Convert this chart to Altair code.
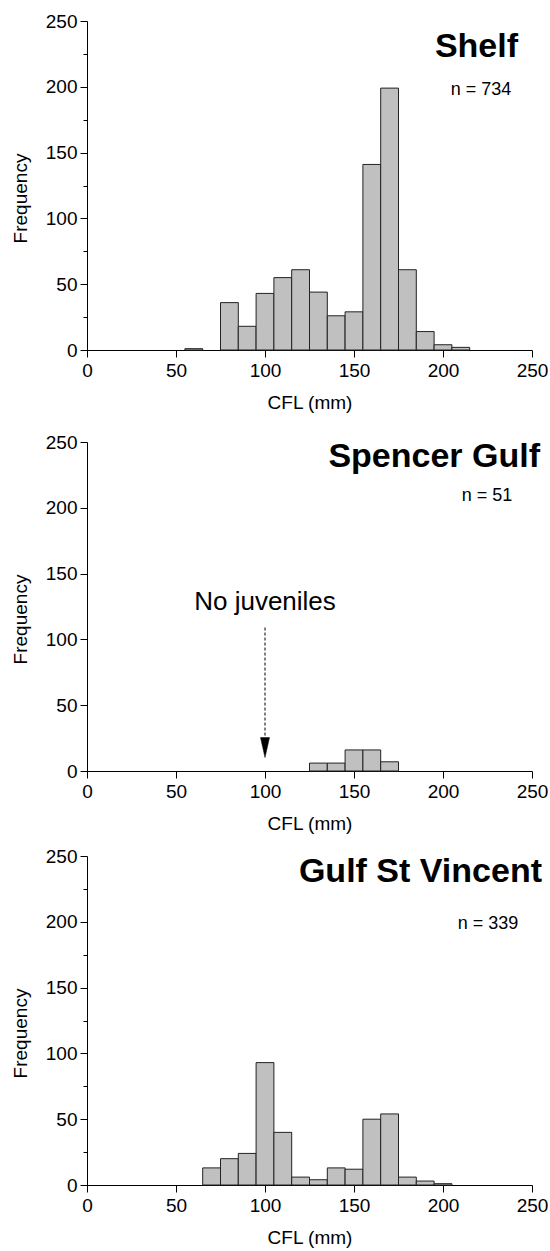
import altair as alt
import pandas as pd

# Carapace fork length (CFL) size-frequency counts, 10 mm bins (lower edges)
BIN_WIDTH = 10

shelf_bins = [55, 75, 85, 95, 105, 115, 125, 135, 145, 155, 165, 175, 185, 195, 205]
shelf_counts = [1, 36, 18, 43, 55, 61, 44, 26, 29, 141, 199, 61, 14, 4, 2]

spencer_bins = [125, 135, 145, 155, 165]
spencer_counts = [6, 6, 16, 16, 7]

gsv_bins = [65, 75, 85, 95, 105, 115, 125, 135, 145, 155, 165, 175, 185, 195]
gsv_counts = [13, 20, 24, 93, 40, 6, 4, 13, 12, 50, 54, 6, 3, 1]

region_names = ["Shelf", "Spencer Gulf", "Gulf St Vincent"]
sample_sizes = ["n = 734", "n = 51", "n = 339"]

x_ticks = [0, 50, 100, 150, 200, 250]
y_ticks = [0, 25, 50, 75, 100, 125, 150, 175, 200, 225, 250]

FONT = "Liberation Sans"
W, H = 445, 329


def histogram(bins, counts, name, n_label, name_xy, n_xy, extra=None):
    df = pd.DataFrame({
        "lo": bins,
        "hi": [b + BIN_WIDTH for b in bins],
        "count": counts,
        "base": [0] * len(bins),
    })
    bars = alt.Chart(df).mark_bar(
        fill="#c0c0c0", stroke="#222222", strokeWidth=1
    ).encode(
        x=alt.X(
            "lo:Q",
            scale=alt.Scale(domain=[0, 250], nice=False, zero=False),
            axis=alt.Axis(
                values=x_ticks, title="CFL (mm)", tickSize=7, labelPadding=4,
                titlePadding=13, grid=False, format="d", labelFlush=False,
            ),
        ),
        x2="hi:Q",
        y=alt.Y(
            "count:Q",
            scale=alt.Scale(domain=[0, 250], nice=False),
            axis=alt.Axis(
                values=y_ticks, title="Frequency", labelPadding=3,
                titlePadding=15, titleY=177, grid=False, format="d",
                labelFlush=False,
                tickSize={"condition": {"test": "datum.value % 50 === 0", "value": 7}, "value": 4},
                labelExpr="datum.value % 50 === 0 ? datum.label : ''",
            ),
        ),
        y2="base:Q",
    )
    title = alt.Chart(pd.DataFrame({"t": [name]})).mark_text(
        font=FONT, fontSize=34, fontWeight="bold", align="right",
        baseline="alphabetic", color="black",
    ).encode(text="t:N", x=alt.value(name_xy[0]), y=alt.value(name_xy[1]))
    nlab = alt.Chart(pd.DataFrame({"t": [n_label]})).mark_text(
        font=FONT, fontSize=18, align="center", baseline="alphabetic", color="black",
    ).encode(text="t:N", x=alt.value(n_xy[0]), y=alt.value(n_xy[1]))
    layers = [bars, title, nlab]
    if extra:
        layers += extra
    return alt.layer(*layers).properties(width=W, height=H)


# "No juveniles" annotation with a dashed arrow pointing at 100 mm
arrow_line = alt.Chart(pd.DataFrame({"x": [100], "y1": [109], "y2": [26]})).mark_rule(
    color="black", strokeWidth=1, strokeDash=[3, 2]
).encode(x="x:Q", y="y1:Q", y2="y2:Q")
arrow_head = alt.Chart(pd.DataFrame({"x": [100], "y": [17.8]})).mark_point(
    shape="M-0.45,-1L0.45,-1L0,1Z", size=400, filled=True, fill="black",
    stroke="black", strokeWidth=0.5, opacity=1,
).encode(x="x:Q", y="y:Q")
arrow_text = alt.Chart(pd.DataFrame({"x": [100], "y": [122], "t": ["No juveniles"]})).mark_text(
    font=FONT, fontSize=26, align="center", baseline="alphabetic", color="black",
).encode(x="x:Q", y="y:Q", text="t:N")

p1 = histogram(shelf_bins, shelf_counts, region_names[0], sample_sizes[0], (431, 36), (394, 74))
p2 = histogram(spencer_bins, spencer_counts, region_names[1], sample_sizes[1], (453, 25), (400, 59),
               extra=[arrow_line, arrow_head, arrow_text])
p3 = histogram(gsv_bins, gsv_counts, region_names[2], sample_sizes[2], (455, 26), (401, 73))

# plot areas are stacked directly, spacing measured between plot frames
chart = alt.vconcat(
    p1,
    alt.vconcat(p2, p3, spacing=85, bounds="flush"),
    spacing=92,
    bounds="flush",
).properties(
    padding={"left": 11, "top": 12, "right": 0, "bottom": 2},
    background="white",
).configure_view(
    stroke=None,
).configure_axis(
    domainColor="black", tickColor="black", labelColor="black", titleColor="black",
    labelFont=FONT, titleFont=FONT, labelFontSize=19, titleFontSize=19,
    titleFontWeight="normal", domainWidth=1, tickWidth=1,
)

chart.save("out.html", embed_options={"renderer": "svg", "actions": False})
